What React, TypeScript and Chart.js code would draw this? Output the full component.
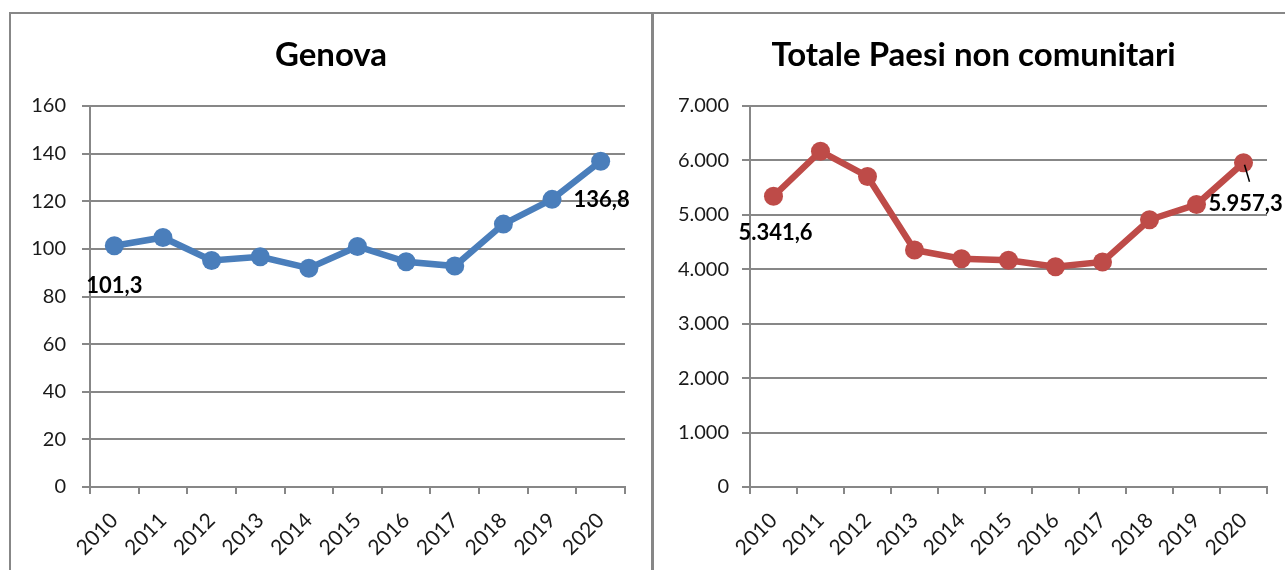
import React, { useEffect, useRef } from 'react';
import { Chart, registerables } from 'chart.js';

Chart.register(...registerables);

// ---- Data ----
const years = ['2010', '2011', '2012', '2013', '2014', '2015', '2016', '2017', '2018', '2019', '2020'];
const genovaValues = [101.3, 104.8, 95.1, 96.7, 91.9, 101.0, 94.6, 92.8, 110.4, 120.8, 136.8];
const nonUeValues = [5341.6, 6170, 5705, 4355, 4195, 4165, 4045, 4135, 4910, 5190, 5957.3];
const genovaTitle = 'Genova';
const nonUeTitle = 'Totale Paesi non comunitari';
const genovaMax = 160;
const genovaStep = 20;
const nonUeMax = 7000;
const nonUeStep = 1000;
const labeledIndices = [0, 10];

// ---- Style ----
const FONT = 'Lato';
const GRID = '#878787';
const TEXT = '#1a1a1a';
const BLUE = '#4a7ebb';
const RED = '#be4b48';

function formatIt(v: number, decimals: number): string {
  const [intPart, decPart] = v.toFixed(decimals).split('.');
  const intStr = intPart.replace(/\B(?=(\d{3})+(?!\d))/g, '.');
  return decPart ? intStr + ',' + decPart : intStr;
}

type LabelItem = { index: number; dx: number; dy: number; align: CanvasTextAlign; leader?: [number, number, number, number] };

function makeDecorPlugin(title: string, titleX: number, titleY: number, items: LabelItem[]) {
  return {
    id: 'decor',
    afterDraw(chart: any) {
      const { ctx } = chart;
      ctx.save();
      ctx.font = `bold 33px ${FONT}`;
      ctx.fillStyle = '#000';
      ctx.textAlign = 'center';
      ctx.textBaseline = 'middle';
      ctx.fillText(title, titleX, titleY);
      ctx.restore();
    },
    afterDatasetsDraw(chart: any) {
      const { ctx } = chart;
      const meta = chart.getDatasetMeta(0);
      const data = chart.data.datasets[0].data as number[];
      items.forEach((item) => {
        const el = meta.data[item.index];
        if (!el) return;
        const text = formatIt(data[item.index], 1);
        ctx.save();
        if (item.leader) {
          ctx.strokeStyle = '#000';
          ctx.lineWidth = 1.5;
          ctx.beginPath();
          ctx.moveTo(el.x + item.leader[0], el.y + item.leader[1]);
          ctx.lineTo(el.x + item.leader[2], el.y + item.leader[3]);
          ctx.stroke();
        }
        ctx.font = `bold 22px ${FONT}`;
        ctx.fillStyle = '#000';
        ctx.textAlign = item.align;
        ctx.textBaseline = 'middle';
        ctx.fillText(text, el.x + item.dx, el.y + item.dy);
        ctx.restore();
      });
    },
  };
}

function makeChart(
  canvas: HTMLCanvasElement,
  opts: {
    title: string;
    titleX: number;
    values: number[];
    color: string;
    max: number;
    step: number;
    padRight: number;
    yWidth: number;
    tickPad: number;
    labels: LabelItem[];
  }
) {
  return new Chart(canvas, {
    type: 'line',
    data: {
      labels: years,
      datasets: [
        {
          data: opts.values,
          borderColor: opts.color,
          backgroundColor: opts.color,
          borderWidth: 6.5,
          pointRadius: 9.5,
          pointBorderWidth: 0,
          pointBackgroundColor: opts.color,
          tension: 0,
        },
      ],
    },
    options: {
      responsive: false,
      animation: false,
      devicePixelRatio: 1,
      layout: { padding: { left: 0, right: opts.padRight, top: 106, bottom: 0 } },
      plugins: {
        legend: { display: false },
        tooltip: { enabled: false },
        title: { display: false },
      },
      scales: {
        x: {
          type: 'category',
          offset: true,
          grid: {
            offset: true,
            drawOnChartArea: false,
            drawTicks: true,
            tickLength: 7,
            color: GRID,
            lineWidth: 2,
          },
          border: { display: true, color: GRID, width: 2 },
          ticks: {
            minRotation: 45,
            maxRotation: 45,
            autoSkip: false,
            color: TEXT,
            font: { family: FONT, size: 21 },
            padding: 14,
          },
          afterFit: (s: any) => {
            s.height = 83;
          },
        },
        y: {
          min: 0,
          max: opts.max,
          grid: {
            color: GRID,
            lineWidth: 2,
            drawTicks: true,
            tickLength: 8,
          },
          border: { display: true, color: GRID, width: 2 },
          ticks: {
            stepSize: opts.step,
            color: TEXT,
            font: { family: FONT, size: 20 },
            padding: opts.tickPad,
            callback: (v: any) => formatIt(Number(v), 0),
          },
          afterFit: (s: any) => {
            s.width = opts.yWidth;
          },
        },
      },
    },
    plugins: [makeDecorPlugin(opts.title, opts.titleX, 55, opts.labels)],
  } as any);
}

export default function App() {
  const leftRef = useRef<HTMLCanvasElement>(null);
  const rightRef = useRef<HTMLCanvasElement>(null);

  useEffect(() => {
    const c1 = makeChart(leftRef.current!, {
      title: genovaTitle,
      titleX: 331,
      values: genovaValues,
      color: BLUE,
      max: genovaMax,
      step: genovaStep,
      padRight: 27,
      yWidth: 90,
      tickPad: 16,
      labels: [
        { index: labeledIndices[0], dx: 0, dy: 40, align: 'center' },
        { index: labeledIndices[1], dx: 1, dy: 39, align: 'center' },
      ],
    });
    const c2 = makeChart(rightRef.current!, {
      title: nonUeTitle,
      titleX: 321.5,
      values: nonUeValues,
      color: RED,
      max: nonUeMax,
      step: nonUeStep,
      padRight: 18,
      yWidth: 98,
      tickPad: 13,
      labels: [
        { index: labeledIndices[0], dx: 2, dy: 37, align: 'center' },
        { index: labeledIndices[1], dx: -35, dy: 41, align: 'left', leader: [1, 2, 6, 19] },
      ],
    });
    return () => {
      c1.destroy();
      c2.destroy();
    };
  }, []);

  const line = (style: React.CSSProperties) => (
    <div style={{ position: 'absolute', background: GRID, ...style }} />
  );

  return (
    <div
      style={{
        position: 'fixed',
        left: 0,
        top: 0,
        width: 1285,
        height: 570,
        overflow: 'hidden',
        background: '#fff',
      }}
    >
      {line({ left: 9, top: 12, width: 1285, height: 2 })}
      {line({ left: 9, top: 12, width: 2, height: 570 })}
      {line({ left: 651, top: 12, width: 3, height: 570 })}
      <canvas
        ref={leftRef}
        width={652}
        height={570}
        style={{ position: 'absolute', left: 0, top: 0, width: 652, height: 570 }}
      />
      <canvas
        ref={rightRef}
        width={633}
        height={570}
        style={{ position: 'absolute', left: 652, top: 0, width: 633, height: 570 }}
      />
    </div>
  );
}
